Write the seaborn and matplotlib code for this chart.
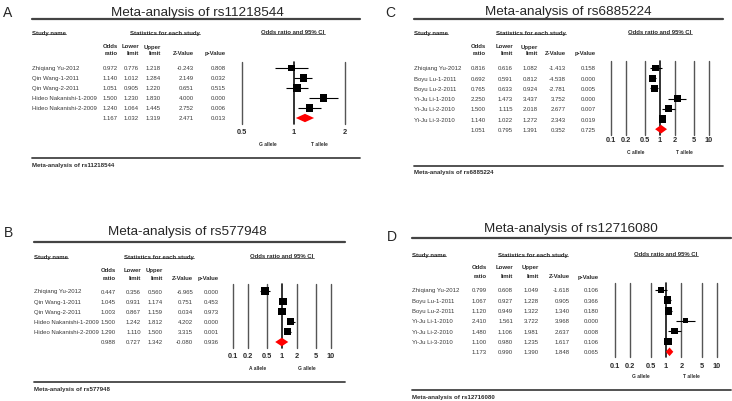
import numpy as np
import pandas as pd
import matplotlib
matplotlib.use("Agg")
import matplotlib.pyplot as plt
import seaborn as sns
from matplotlib.lines import Line2D
from matplotlib.patches import Polygon
from matplotlib import transforms

sns.set_style("white")
plt.rcParams['font.family'] = ['Liberation Sans', 'DejaVu Sans']

W, H = 732, 402

# ---- data ----
studies_ab = ["Zhiqiang Yu-2012", "Qin Wang-1-2011", "Qin Wang-2-2011",
              "Hideo Nakanishi-1-2009", "Hideo Nakanishi-2-2009"]
studies_cd = ["Zhiqiang Yu-2012", "Boyu Lu-1-2011", "Boyu Lu-2-2011",
              "Yi-Ju Li-1-2010", "Yi-Ju Li-2-2010", "Yi-Ju Li-3-2010"]

# A: rs11218544
or_a = [0.972, 1.140, 1.051, 1.500, 1.240]
lo_a = [0.776, 1.012, 0.905, 1.230, 1.064]
hi_a = [1.218, 1.284, 1.220, 1.830, 1.445]
z_a = [-0.243, 2.149, 0.651, 4.000, 2.752]
p_a = [0.808, 0.032, 0.515, 0.000, 0.006]
pooled_a = [1.167, 1.032, 1.319, 2.471, 0.013]
weights_a = [16, 18, 18, 18, 17]

# B: rs577948
or_b = [0.447, 1.045, 1.003, 1.500, 1.290]
lo_b = [0.356, 0.931, 0.867, 1.242, 1.110]
hi_b = [0.560, 1.174, 1.159, 1.812, 1.500]
z_b = [-6.965, 0.751, 0.034, 4.202, 3.315]
p_b = [0.000, 0.453, 0.973, 0.000, 0.001]
pooled_b = [0.988, 0.727, 1.342, -0.080, 0.936]
weights_b = [18, 17, 18, 17, 17]

# C: rs6885224
or_c = [0.816, 0.692, 0.765, 2.250, 1.500, 1.140]
lo_c = [0.616, 0.591, 0.633, 1.473, 1.115, 1.022]
hi_c = [1.082, 0.812, 0.924, 3.437, 2.018, 1.272]
z_c = [-1.413, -4.538, -2.781, 3.752, 2.677, 2.343]
p_c = [0.158, 0.000, 0.005, 0.000, 0.007, 0.019]
pooled_c = [1.051, 0.795, 1.391, 0.352, 0.725]
weights_c = [16, 16, 16, 17, 17, 18]

# D: rs12716080
or_d = [0.799, 1.067, 1.120, 2.410, 1.480, 1.100]
lo_d = [0.608, 0.927, 0.949, 1.561, 1.106, 0.980]
hi_d = [1.049, 1.228, 1.322, 3.722, 1.981, 1.235]
z_d = [-1.618, 0.905, 1.340, 3.968, 2.637, 1.617]
p_d = [0.106, 0.366, 0.180, 0.000, 0.008, 0.106]
pooled_d = [1.173, 0.990, 1.390, 1.848, 0.065]
weights_d = [14, 20, 20, 9, 14, 20]

ticks_short = [0.5, 1, 2]
ticks_long = [0.1, 0.2, 0.5, 1, 2, 5, 10]

fig = plt.figure(figsize=(W / 100, H / 100), dpi=100)
fig.patch.set_facecolor("white")
underlined = []


def txt(x, y, s, **kw):
    kw.setdefault("va", "center")
    return fig.text(x / W, 1 - y / H, s, **kw)


def hrule(x0, x1, y, lw=1.5, color="#444444"):
    fig.add_artist(Line2D([x0 / W, x1 / W], [1 - y / H] * 2,
                          transform=fig.transFigure, lw=lw, color=color))


def draw_panel(lay, letter, rsid, studies, odds, lo, hi, z, p, pooled,
               weights, ticks, alleles):
    n = len(studies)
    step = lay["step"]
    ypix = lay["row0"] + np.arange(n + 1) * step
    fs = 4.3
    dark = "#2a2a2a"
    grey = "#3a3a3a"

    txt(lay["letter"][0], lay["letter"][1], letter, fontsize=10, ha="left")
    txt(lay["title"][0], lay["title"][1], "Meta-analysis of " + rsid,
        fontsize=9.7, ha="center")
    hrule(lay["rule_x"][0], lay["rule_x"][1], lay["rule_top"], lw=1.6)

    hy = lay["head_y"]
    underlined.append(txt(lay["name_x"], hy, "Study name", fontsize=fs,
                          fontweight="bold", ha="left", color=dark))
    underlined.append(txt(lay["stats_cx"], hy, "Statistics for each study",
                          fontsize=fs, fontweight="bold", ha="center", color=dark))
    underlined.append(txt(lay["ci_cx"], hy, "Odds ratio and 95% CI",
                          fontsize=fs, fontweight="bold", ha="center", color=dark))

    s0, s1 = lay["sub_y"]
    heads = [("Odds", "ratio"), ("Lower", "limit"), ("Upper", "limit"),
             ("", "Z-Value"), ("", "p-Value")]
    for cx, (h0, h1) in zip(lay["cols"], heads):
        if h0:
            txt(cx, s0, h0, fontsize=fs, fontweight="bold", ha="right", color=dark)
        txt(cx, s1, h1, fontsize=fs, fontweight="bold", ha="right", color=dark)

    for i in range(n):
        txt(lay["name_x"], ypix[i], studies[i], fontsize=fs, ha="left", color=grey)
        vals = [odds[i], lo[i], hi[i], z[i], p[i]]
        for cx, v in zip(lay["cols"], vals):
            txt(cx, ypix[i], "%.3f" % v, fontsize=fs, ha="right", color=grey)
    for cx, v in zip(lay["cols"], pooled):
        txt(cx, ypix[n], "%.3f" % v, fontsize=fs, ha="right", color=grey)

    # forest part
    top = lay["row0"] - 0.65 * step
    bot = ypix[n] + 0.55 * step
    x0, x1 = lay["fx"]
    ax = fig.add_axes([x0 / W, 1 - bot / H, (x1 - x0) / W, (bot - top) / H])
    for t in ticks:
        ax.axvline(t, color="#111111" if t == 1 else "#555555",
                   lw=1.2 if t == 1 else 1.0, clip_on=False, zorder=0.5)
    ax.hlines(np.arange(n), lo, hi, color="black", lw=0.8, zorder=2)
    df = pd.DataFrame({"odds": odds, "row": np.arange(n), "w": weights})
    sns.scatterplot(data=df, x="odds", y="row", size="w", sizes=(13, 32),
                    size_norm=(9, 20), marker="s", color="black", linewidth=0,
                    legend=False, ax=ax, zorder=3)
    dh = 0.42
    ax.add_patch(Polygon([(pooled[1], n), (pooled[0], n - dh), (pooled[2], n),
                          (pooled[0], n + dh)], closed=True, color="#ff0000",
                         lw=0, zorder=4))
    ax.set_xscale("log")
    ax.set_xlim(ticks[0], ticks[-1])
    ax.set_ylim(n + 0.55, -0.65)
    ax.axis("off")

    trans = transforms.blended_transform_factory(ax.transData, fig.transFigure)
    for t in ticks:
        ax.text(t, 1 - lay["tick_y"] / H, "%g" % t, transform=trans,
                ha="center", va="center", fontsize=5.3, fontweight="bold",
                color=dark)
    for xm, lab in zip([np.sqrt(ticks[0]), np.sqrt(ticks[-1])], alleles):
        ax.text(xm, 1 - lay["allele_y"] / H, lab, transform=trans,
                ha="center", va="center", fontsize=3.5, fontweight="bold",
                color=dark)

    hrule(lay["rule_x"][0], lay["rule_x"][1], lay["rule_bot"], lw=1.3)
    txt(lay["name_x"], lay["foot_y"], "Meta-analysis of " + rsid,
        fontsize=4.4, fontweight="bold", ha="left", color=dark)


lay_a = dict(letter=(3, 13), title=(197, 13), rule_top=20, rule_x=(32, 360),
             head_y=33, stats_cx=165, ci_cx=293, sub_y=(47, 54), row0=69,
             step=10, cols=[118, 139, 161, 194, 226], name_x=32,
             fx=(242, 345), tick_y=133, allele_y=145, rule_bot=159, foot_y=166)
lay_b = dict(letter=(4, 233), title=(187, 232), rule_top=243, rule_x=(34, 345),
             head_y=257, stats_cx=159, ci_cx=282, sub_y=(271, 279), row0=292,
             step=10.2, cols=[116, 141, 163, 193, 219], name_x=34,
             fx=(233, 331), tick_y=357, allele_y=368, rule_bot=383, foot_y=390)
lay_c = dict(letter=(385, 13), title=(568, 12), rule_top=20, rule_x=(414, 723),
             head_y=33, stats_cx=531, ci_cx=660, sub_y=(47, 54), row0=69,
             step=10.2, cols=[486, 513, 538, 566, 596], name_x=414,
             fx=(611, 709), tick_y=141, allele_y=152, rule_bot=167, foot_y=173)
lay_d = dict(letter=(387, 237), title=(571, 229), rule_top=239, rule_x=(412, 731),
             head_y=255, stats_cx=533, ci_cx=666, sub_y=(268, 277), row0=291,
             step=10.3, cols=[487, 513, 539, 570, 599], name_x=412,
             fx=(615, 717), tick_y=367, allele_y=377, rule_bot=391, foot_y=398)

draw_panel(lay_a, "A", "rs11218544", studies_ab, or_a, lo_a, hi_a, z_a, p_a,
           pooled_a, weights_a, ticks_short, ["G allele", "T allele"])
draw_panel(lay_b, "B", "rs577948", studies_ab, or_b, lo_b, hi_b, z_b, p_b,
           pooled_b, weights_b, ticks_long, ["A allele", "G allele"])
draw_panel(lay_c, "C", "rs6885224", studies_cd, or_c, lo_c, hi_c, z_c, p_c,
           pooled_c, weights_c, ticks_long, ["C allele", "T allele"])
draw_panel(lay_d, "D", "rs12716080", studies_cd, or_d, lo_d, hi_d, z_d, p_d,
           pooled_d, weights_d, ticks_long, ["G allele", "T allele"])

# underline the header labels
renderer = fig.canvas.get_renderer()
for t in underlined:
    bb = t.get_window_extent(renderer)
    y = (bb.y0 + 0.3) / H
    fig.add_artist(Line2D([bb.x0 / W, bb.x1 / W], [y, y],
                          transform=fig.transFigure, lw=0.5, color="#2a2a2a"))

fig.savefig("out.png", dpi=100, facecolor="white")
